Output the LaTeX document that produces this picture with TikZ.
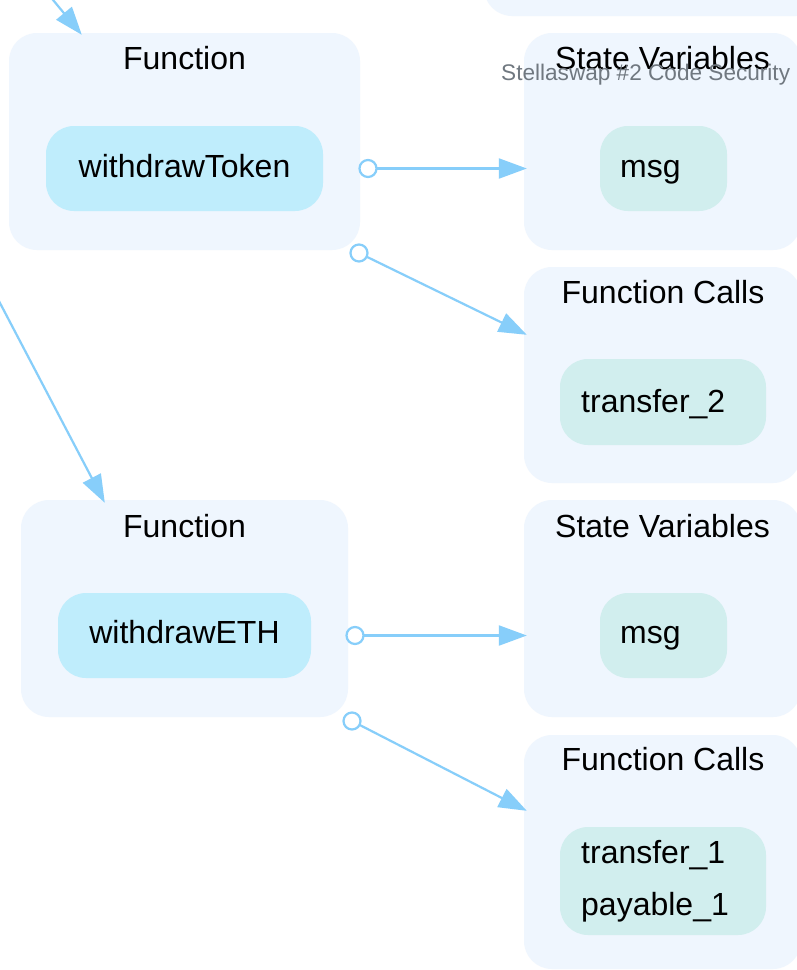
\documentclass[tikz,border=0pt]{standalone}
\usepackage{fontspec}
\setmainfont{Liberation Sans}
\usetikzlibrary{arrows.meta,calc}
\definecolor{clusterbg}{HTML}{EFF6FE}
\definecolor{funcbg}{HTML}{BFEDFC}
\definecolor{itembg}{HTML}{D1EEEE}
\definecolor{edgec}{HTML}{87CEFA}
\definecolor{markc}{HTML}{707880}
\begin{document}
\begin{tikzpicture}[x=1pt,y=-1pt,
  cluster/.style={fill=clusterbg, rounded corners=28pt, inner sep=0pt, draw=none},
  funcnode/.style={fill=funcbg, rounded corners=28pt, inner sep=0pt, draw=none},
  itemnode/.style={fill=itembg, rounded corners=28pt, inner sep=0pt, draw=none},
  lbl/.style={inner sep=0pt, font=\fontsize{32}{38}\selectfont, text=black},
  tailc/.style={circle, draw=edgec, line width=2.2pt, minimum size=17pt, inner sep=0pt, outer sep=0pt},
  link/.style={draw=edgec, line width=2.2pt, -{Triangle[length=28pt,width=20pt]}},
  wmark/.style={inner sep=0pt, font=\fontsize{22.6}{27}\selectfont, text=markc}]
\useasboundingbox (0,0) rectangle (797,970);
\clip (0,0) rectangle (797,970);
\fill[white] (0,0) rectangle (797,970);

% clusters
\node[cluster, minimum width=340pt, minimum height=66pt] (top) at (654,-17) {};
\node[cluster, minimum width=351pt, minimum height=217pt] (fn1) at (184.5,141.5) {};
\node[cluster, minimum width=277pt, minimum height=217pt] (sv1) at (662.5,141.5) {};
\node[cluster, minimum width=277pt, minimum height=216pt] (fc1) at (662.5,375) {};
\node[cluster, minimum width=327pt, minimum height=217pt] (fn2) at (184.5,608.5) {};
\node[cluster, minimum width=277pt, minimum height=217pt] (sv2) at (662.5,608.5) {};
\node[cluster, minimum width=277pt, minimum height=234pt] (fc2) at (662.5,852) {};

% inner nodes
\node[funcnode, minimum width=277pt, minimum height=85pt] (wt) at (184.5,168.5) {};
\node[itemnode, minimum width=127pt, minimum height=85pt] (msg1) at (663.5,168.5) {};
\node[itemnode, minimum width=206pt, minimum height=86pt] (tr2) at (663,402) {};
\node[funcnode, minimum width=253pt, minimum height=85pt] (we) at (184.5,635.5) {};
\node[itemnode, minimum width=127pt, minimum height=85pt] (msg2) at (663.5,635.5) {};
\node[itemnode, minimum width=206pt, minimum height=108pt] (tr1) at (663,881) {};

% texts
\node[lbl, anchor=base] (fn1t) at (184.5,69) {Function};
\node[lbl, anchor=base] (wtt) at (184.5,177) {withdrawToken};
\node[lbl, anchor=base] (sv1t) at (662.5,69) {State Variables};
\node[lbl, anchor=base west] (msg1t) at (620,177) {msg};
\node[lbl, anchor=base] (fc1t) at (663,303) {Function Calls};
\node[lbl, anchor=base west] (tr2t) at (581,412) {transfer\_2};
\node[lbl, anchor=base] (fn2t) at (184.5,537) {Function};
\node[lbl, anchor=base] (wet) at (184.5,643) {withdrawETH};
\node[lbl, anchor=base] (sv2t) at (662.5,537) {State Variables};
\node[lbl, anchor=base west] (msg2t) at (620,643) {msg};
\node[lbl, anchor=base] (fc2t) at (663,770) {Function Calls};
\node[lbl, anchor=base west] (tr1t) at (581,863) {transfer\_1};
\node[lbl, anchor=base west] (pay1t) at (581,915) {payable\_1};

% incoming edges from outside the view
\coordinate (in1) at (44,-11);
\coordinate (in2) at (-5,293.5);
\draw[link] (in1) -- ($(fn1.north west)+(73,2)$);
\draw[link] (in2) -- ($(fn2.north west)+(84,3)$);

% open-circle tails of the cluster edges
\node[tailc] (c1) at (368,168.5) {};
\node[tailc] (c2) at (359,253) {};
\node[tailc] (c3) at (355,635.5) {};
\node[tailc] (c4) at (352,721) {};

% edges between clusters
\draw[link] (c1) -- ($(sv1.west |- c1)+(3,0)$);
\draw[link] (c2) -- ($(fc1.north west)+(3,68)$);
\draw[link] (c3) -- ($(sv2.west |- c3)+(3,0)$);
\draw[link] (c4) -- ($(fc2.north west)+(3,76)$);

% watermark
\node[wmark, anchor=base west] (wm) at (501,80) {Stellaswap \#2 Code Security};
\end{tikzpicture}
\end{document}
